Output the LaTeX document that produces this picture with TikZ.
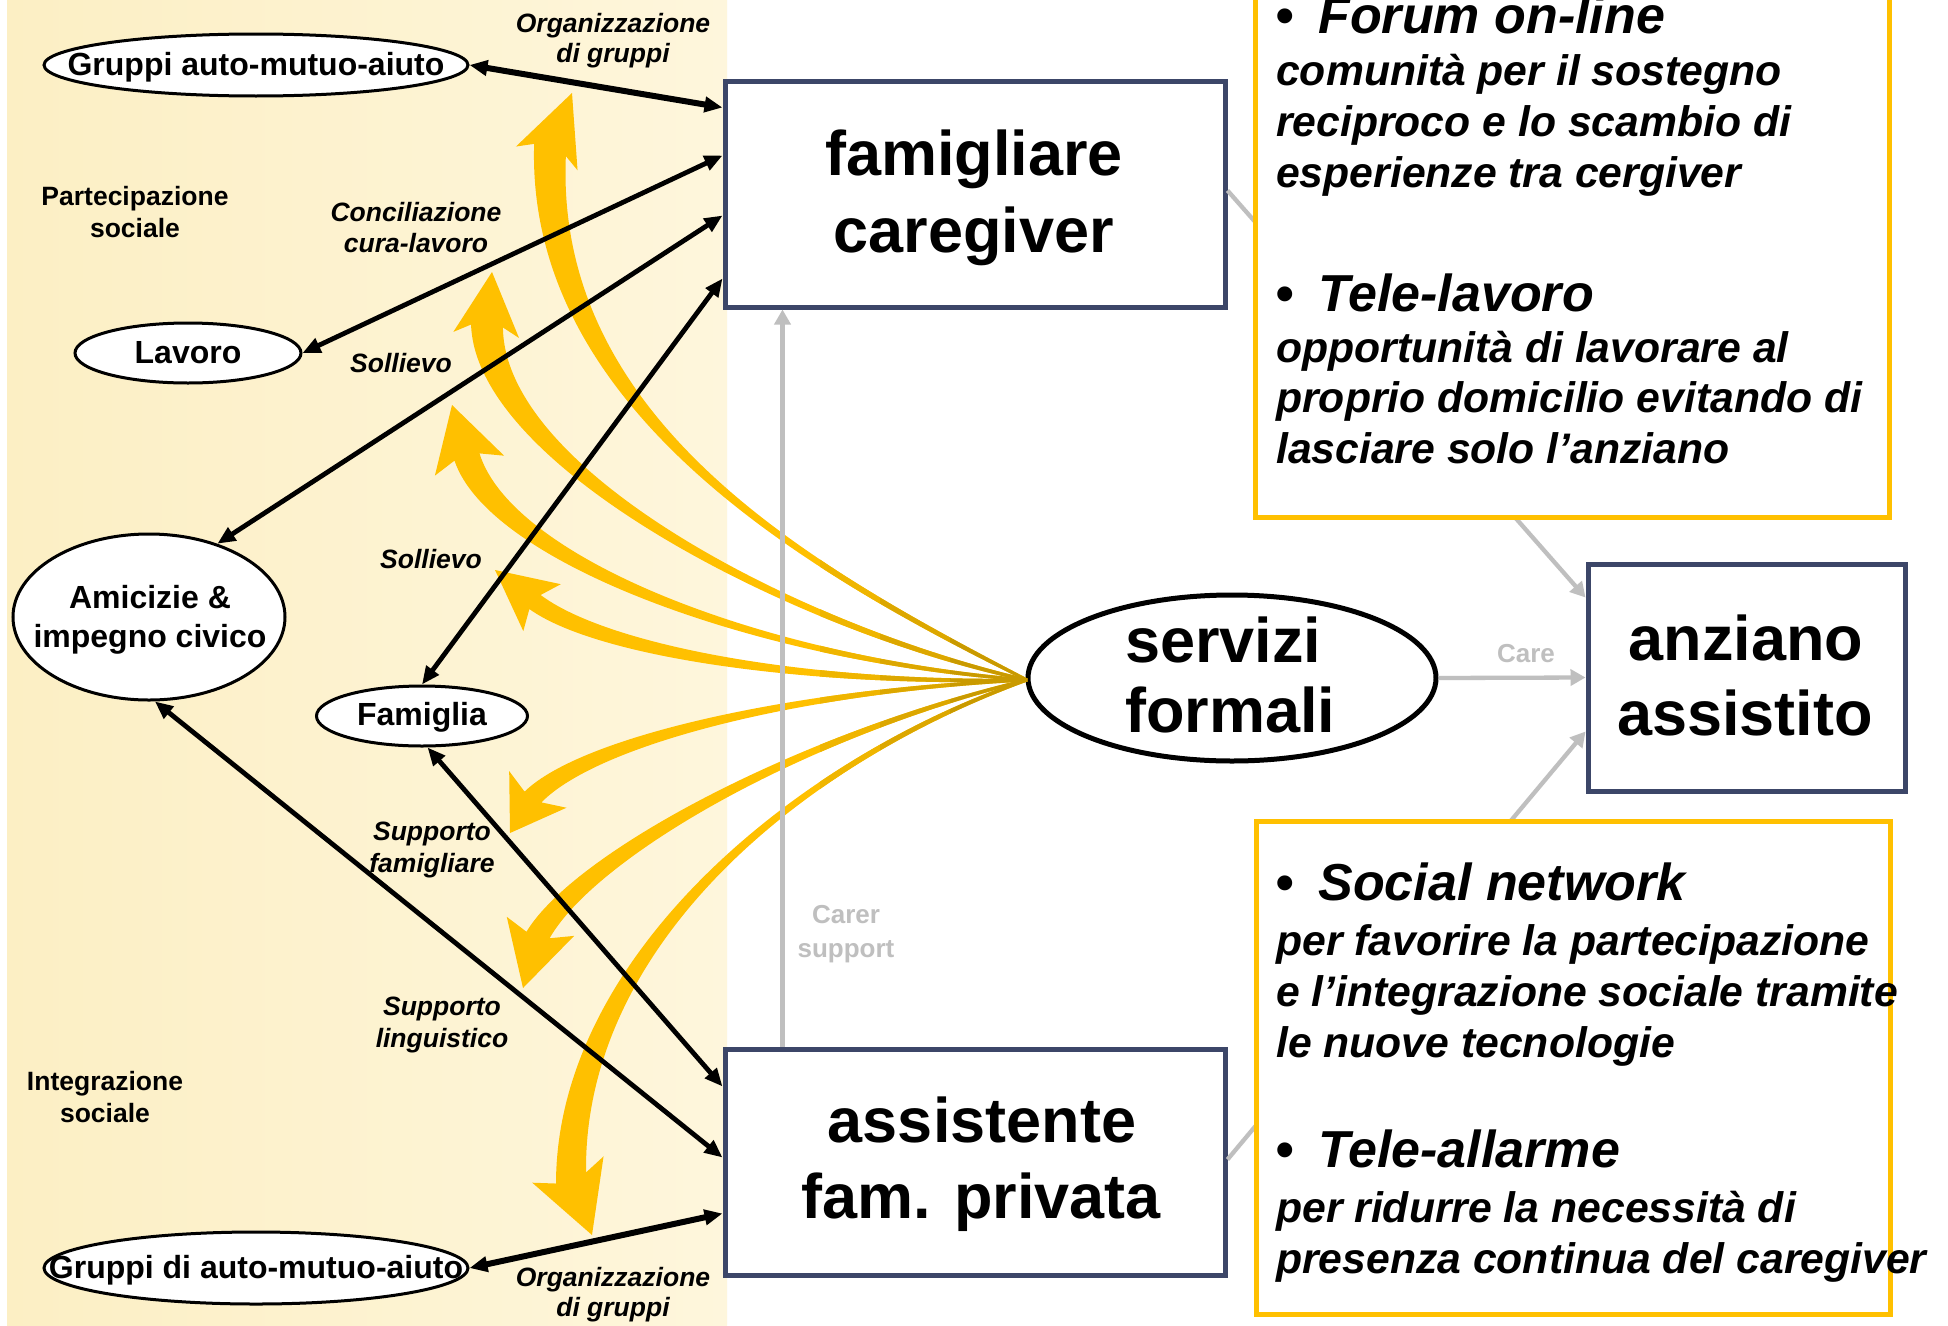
\documentclass[tikz,border=0pt]{standalone}
\usepackage{fontspec}
\setmainfont{Liberation Sans}
\usetikzlibrary{arrows.meta,calc,shapes.geometric}
\definecolor{yel}{HTML}{FFC000}
\definecolor{ydark}{HTML}{C99A00}
\definecolor{navy}{HTML}{3C4668}
\definecolor{gry}{HTML}{BFBFBF}
\definecolor{bgl}{HTML}{FCEFC4}
\definecolor{bgr}{HTML}{FEF6DC}
\colorlet{ycol}{yel}
\newcommand\yarrow[8]{%
  \coordinate (yT) at (#1);
  \coordinate (yB) at (#2);
  \coordinate (yC) at (#3);
  \coordinate (yD) at (#4);
  \coordinate (yS) at (#5);
  \coordinate (yBp) at ($(yB)!#6pt!90:(yT)$);
  \coordinate (yBm) at ($(yB)!#6pt!-90:(yT)$);
  \coordinate (yHp0) at ($(yB)!#7pt!90:(yT)$);
  \coordinate (yHm0) at ($(yB)!#7pt!-90:(yT)$);
  \coordinate (yHp) at ($(yHp0)+(yB)-($(yB)!9pt!(yT)$)$);
  \coordinate (yHm) at ($(yHm0)+(yB)-($(yB)!9pt!(yT)$)$);
  \coordinate (yCp) at ($(yC)+0.9*(yBp)-0.9*(yB)$);
  \coordinate (yCm) at ($(yC)+0.9*(yBm)-0.9*(yB)$);
  \coordinate (yDp) at ($(yD)!#8pt!-90:(yS)$);
  \coordinate (yDm) at ($(yD)!#8pt!90:(yS)$);
  \coordinate (ySp) at ($(yS)!1.5pt!90:(yD)$);
  \coordinate (ySm) at ($(yS)!1.5pt!-90:(yD)$);
  \fill[ycol] (ySp) .. controls (yDp) and (yCp) .. (yBp) -- (yHp) -- (yT) -- (yHm) -- (yBm) .. controls (yCm) and (yDm) .. (ySm) -- cycle;
}
\newcommand\yallarrows{%
  \yarrow{572,93}{550,150}{540,420}{820,575}{1027,680}{17}{33}{4}
  \yarrow{492,272}{487,326}{490,470}{800,630}{1027,680}{16}{33}{4}
  \yarrow{452,405}{467,457}{500,560}{760,660}{1027,680}{13}{36}{3}
  \yarrow{495,570}{535,602}{600,650}{800,685}{1027,680}{9}{30}{2.5}
  \yarrow{510,833}{533,797}{590,740}{800,690}{1027,680}{10}{34}{2.5}
  \yarrow{523,988}{538,935}{585,855}{800,735}{1027,680}{12}{35}{3}
  \yarrow{592,1235}{571,1178}{570,950}{800,760}{1027,680}{16}{38}{4}
}
\begin{document}
\begin{tikzpicture}[x=1pt,y=-1pt,
  >={Triangle[length=18pt,width=15pt]},
  bigbox/.style={rectangle,draw=navy,line width=5pt,fill=white,inner sep=0pt},
  ybox/.style={rectangle,draw=yel,line width=5pt,fill=white,inner sep=0pt},
  ell/.style={ellipse,draw=black,line width=3pt,fill=white,inner sep=0pt},
  blk/.style={draw=black,line width=4.8pt},
  blkb/.style={draw=black,line width=6pt},
  grayarr/.style={draw=gry,line width=4.3pt,-{Triangle[length=15pt,width=16pt]}},
  bigtxt/.style={inner sep=0pt,anchor=base,font=\fontsize{63pt}{77pt}\selectfont\bfseries},
  etxt/.style={inner sep=0pt,anchor=base,font=\fontsize{32pt}{38pt}\selectfont\bfseries},
  lbl/.style={inner sep=0pt,anchor=base,font=\fontsize{26.5pt}{31pt}\selectfont\bfseries\itshape},
  slbl/.style={inner sep=0pt,anchor=base,font=\fontsize{26.5pt}{31pt}\selectfont\bfseries},
  glbl/.style={inner sep=0pt,anchor=base,text=gry,font=\fontsize{26pt}{31pt}\selectfont\bfseries},
  htxt/.style={inner sep=0pt,anchor=base west,font=\fontsize{52pt}{60pt}\selectfont\bfseries\itshape},
  btxt/.style={inner sep=0pt,anchor=base west,font=\fontsize{42.7pt}{51pt}\selectfont\bfseries\itshape}
]
\useasboundingbox (0,0) rectangle (1948,1325);
\fill[white] (0,0) rectangle (1948,1325);
\fill[left color=bgl,right color=bgr] (7,0) rectangle (727,1325);

% main boxes
\node[bigbox,minimum width=500pt,minimum height=226pt] (fam) at (975,194) {};
\node[bigbox,minimum width=500pt,minimum height=226pt] (ass) at (975,1162) {};
\node[bigbox,minimum width=317pt,minimum height=227pt] (anz) at (1746.5,677.5) {};
\node[ellipse,draw=black,line width=5pt,fill=white,inner sep=0pt,minimum width=408pt,minimum height=166pt] (serv) at (1232,678) {};

% ellipses
\node[ell,minimum width=424pt,minimum height=62pt] (gr1) at (256,65) {};
\node[ell,minimum width=226pt,minimum height=60pt] (lav) at (188,353) {};
\node[ell,minimum width=272pt,minimum height=166pt] (amc) at (149,617) {};
\node[ell,minimum width=211pt,minimum height=60pt] (fml) at (422,716) {};
\node[ell,minimum width=424pt,minimum height=72pt] (gr2) at (256,1268) {};

% yellow arrows, darkening towards the formal services
\yallarrows
\begin{scope}
  \clip (820,500) rectangle (880,860);
  \colorlet{ycol}{yel!70!ydark}
  \yallarrows
\end{scope}
\begin{scope}
  \clip (880,500) rectangle (950,860);
  \colorlet{ycol}{yel!35!ydark}
  \yallarrows
\end{scope}
\begin{scope}
  \clip (950,500) rectangle (1040,860);
  \colorlet{ycol}{ydark}
  \yallarrows
\end{scope}

% gray connectors
\draw[grayarr] ([xshift=60pt]ass.north west) -- ([xshift=60pt]fam.south west);
\draw[grayarr] (serv.east) -- (anz.west);
\draw[grayarr] ([yshift=-112pt]fam.north east) -- ([yshift=-36pt]anz.north west);
\draw[grayarr] ([yshift=-113pt]ass.north east) -- ([yshift=-170pt]anz.north west);

% black connectors
\draw[blkb,<->] (gr1.east) -- ([yshift=-29pt]fam.north west);
\draw[blk,<->] (lav.east) -- ([yshift=-77pt]fam.north west);
\draw[blk,<->] (amc.47) -- ([yshift=-137pt]fam.north west);
\draw[blk,<->] (fml.north) -- ([yshift=-200pt]fam.north west);
\draw[blk,<->] (fml.-80) -- ([yshift=-40pt]ass.north west);
\draw[blk,<->] (amc.-86) -- ([yshift=-111pt]ass.north west);
\draw[blkb,<->] (gr2.east) -- ([yshift=-167pt]ass.north west);

% technology boxes
\node[ybox,minimum width=634pt,minimum height=537pt] (forum) at (1572,248.5) {};
\node[ybox,minimum width=634pt,minimum height=493pt] (social) at (1573,1067.5) {};

% texts in main boxes
\node[bigtxt] (famt1) at (974,175) {famigliare};
\node[bigtxt] (famt2) at (974,252) {caregiver};
\node[bigtxt] (asst1) at (982,1142) {assistente};
\node[bigtxt] (asst2) at (981,1218) {fam. privata};
\node[bigtxt] (anzt1) at (1746,660) {anziano};
\node[bigtxt] (anzt2) at (1745,735) {assistito};
\node[bigtxt,anchor=base west] (servt1) at (1125,662) {servizi};
\node[bigtxt,anchor=base west] (servt2) at (1125,732) {formali};

% ellipse texts
\node[etxt] (gr1t) at (256,75) {Gruppi auto-mutuo-aiuto};
\node[etxt] (lavt) at (188,363) {Lavoro};
\node[etxt] (amct1) at (150,608) {Amicizie \&};
\node[etxt] (amct2) at (150,647) {impegno civico};
\node[etxt] (fmlt) at (422,725) {Famiglia};
\node[etxt] (gr2t) at (256,1278) {Gruppi di auto-mutuo-aiuto};

% labels
\node[lbl] (org1a) at (613,32) {Organizzazione};
\node[lbl] (org1b) at (613,62) {di gruppi};
\node[lbl] (con1) at (416,221) {Conciliazione};
\node[lbl] (con2) at (416,252) {cura-lavoro};
\node[lbl] (sol1) at (401,372) {Sollievo};
\node[lbl] (sol2) at (431,568) {Sollievo};
\node[lbl] (supf1) at (432,840) {Supporto};
\node[lbl] (supf2) at (432,872) {famigliare};
\node[lbl] (supl1) at (442,1015) {Supporto};
\node[lbl] (supl2) at (442,1047) {linguistico};
\node[lbl] (org2a) at (613,1286) {Organizzazione};
\node[lbl] (org2b) at (613,1316) {di gruppi};
\node[slbl] (par1) at (135,205) {Partecipazione};
\node[slbl] (par2) at (135,237) {sociale};
\node[slbl] (int1) at (105,1090) {Integrazione};
\node[slbl] (int2) at (105,1122) {sociale};
\node[glbl] (car1) at (846,923) {Carer};
\node[glbl] (car2) at (846,957) {support};
\node[glbl] (caret) at (1526,662) {Care};

% forum box text
\node[htxt] (fh1) at (1275,33) {\textbullet\hspace{25pt}Forum on-line};
\node[btxt] (fb1) at (1276,85) {comunità per il sostegno};
\node[btxt] (fb2) at (1276,136) {reciproco e lo scambio di};
\node[btxt] (fb3) at (1276,187) {esperienze tra cergiver};
\node[htxt] (fh2) at (1275,311) {\textbullet\hspace{25pt}Tele-lavoro};
\node[btxt] (fb4) at (1276,362) {opportunità di lavorare al};
\node[btxt] (fb5) at (1276,412) {proprio domicilio evitando di};
\node[btxt] (fb6) at (1276,463) {lasciare solo l’anziano};

% social box text
\node[htxt] (sh1) at (1275,900) {\textbullet\hspace{25pt}Social network};
\node[btxt] (sb1) at (1276,955) {per favorire la partecipazione};
\node[btxt] (sb2) at (1276,1006) {e l’integrazione sociale tramite};
\node[btxt] (sb3) at (1276,1057) {le nuove tecnologie};
\node[htxt] (sh2) at (1275,1167) {\textbullet\hspace{25pt}Tele-allarme};
\node[btxt] (sb4) at (1276,1222) {per ridurre la necessità di};
\node[btxt] (sb5) at (1276,1273) {presenza continua del caregiver};
\end{tikzpicture}
\end{document}
